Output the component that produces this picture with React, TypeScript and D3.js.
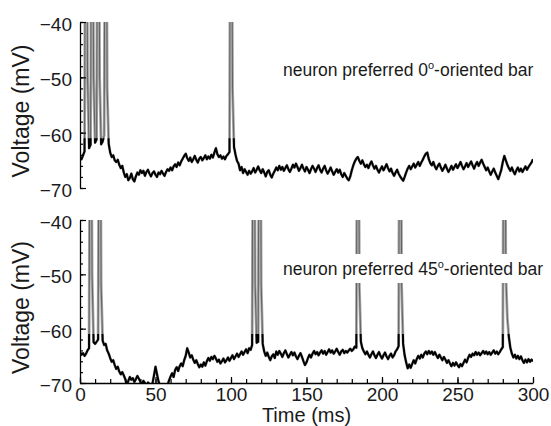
import React, { useEffect, useRef } from "react";
import * as d3 from "d3";

// membrane potential, sampled every 1 ms from 0 to 300 ms
const trace0 = [
  -64.4, -64.8, -64.1, -63.4, 20, -50, -62.8, -62.2, 20, -50,
  -61.8, -61.2, 20, -50, -62.1, -61.6, -60.5, 20, -52, -62.0,
  -63.6, -64.4, -64.1, -65.0, -65.3, -64.9, -65.8, -66.4, -66.0, -67.2,
  -68.0, -67.5, -68.6, -68.2, -67.4, -68.4, -68.8, -67.9, -67.2, -67.6,
  -66.8, -67.3, -66.9, -67.8, -67.1, -66.7, -67.4, -67.9, -67.3, -67.0,
  -67.6, -68.0, -67.2, -67.5, -66.9, -67.4, -67.8, -67.1, -66.6, -66.9,
  -66.3, -66.8, -66.1, -65.7, -66.2, -65.4, -65.9, -65.2, -64.7, -64.2,
  -63.8, -64.6, -65.1, -64.5, -65.3, -64.8, -64.2, -64.9, -65.4, -64.7,
  -64.4, -65.0, -64.6, -64.1, -64.8, -64.3, -64.7, -64.0, -64.5, -63.6,
  -62.8, -63.9, -64.4, -64.1, -64.7, -64.3, -64.8, -64.2, -63.9, -63.5,
  20, -52, -62.6, -64.0, -65.1, -65.6, -66.8, -66.2, -67.3, -66.6,
  -67.1, -67.6, -66.9, -67.4, -67.0, -66.4, -67.2, -66.7, -66.1, -66.8,
  -67.3, -66.6, -67.2, -67.9, -67.1, -66.8, -67.6, -68.1, -67.4, -66.9,
  -66.3, -66.8, -66.0, -66.7, -66.2, -66.9, -66.4, -65.9, -66.6, -67.1,
  -66.5, -65.8, -66.3, -65.6, -66.2, -66.9, -66.4, -65.8, -66.5, -67.0,
  -66.2, -66.7, -67.3, -66.6, -66.0, -66.5, -67.1, -66.4, -65.9, -66.7,
  -67.2, -66.5, -66.0, -66.8, -67.4, -66.9, -66.3, -67.0, -67.6, -67.1,
  -66.6, -67.2, -66.7, -67.5, -68.0, -67.3, -67.8, -68.3, -68.6, -67.9,
  -66.8, -65.9, -65.2, -64.7, -64.4, -65.1, -65.6, -65.0, -65.7, -66.2,
  -65.8, -66.4, -65.7, -65.2, -65.9, -66.5, -66.0, -66.7, -67.2, -66.6,
  -66.1, -66.8, -66.3, -65.7, -66.4, -67.0, -66.5, -67.3, -67.8, -67.2,
  -66.7, -67.4, -67.9, -68.3, -68.7, -68.0, -67.2, -66.5, -66.0, -66.6,
  -66.1, -65.6, -66.3, -65.8, -65.3, -66.0, -65.4, -64.9, -64.3, -63.8,
  -63.6, -64.8, -65.5, -65.9, -65.3, -66.1, -66.6, -66.0, -65.6, -66.3,
  -66.9, -66.4, -65.8, -66.5, -67.1, -66.6, -66.0, -66.7, -66.2, -65.7,
  -66.4, -65.9, -65.3, -66.0, -66.6, -66.1, -65.5, -66.2, -65.7, -65.2,
  -65.9, -66.5, -65.8, -65.3, -66.0, -65.4, -64.9, -65.6, -66.2, -66.8,
  -66.3, -67.0, -67.6, -67.0, -66.5, -67.2, -67.8, -68.4, -67.6, -66.7,
  -65.3, -64.2, -65.0, -65.8, -66.4, -66.9, -66.3, -67.0, -67.5, -66.8,
  -66.3, -67.0, -66.5, -67.1, -66.6, -66.1, -66.7, -66.2, -65.8, -65.4,
  -64.8,
];

const trace45 = [
  -64.3, -64.8, -64.5, -65.0, -64.6, -64.0, -63.6, 20, -50, -62.5,
  -62.8, -62.4, -62.0, 20, -52, -62.2, -63.0, -62.8, -64.0, -64.6,
  -65.4, -66.1, -65.8, -66.7, -67.4, -67.0, -67.9, -68.4, -68.0, -68.6,
  -69.3, -70.4, -69.6, -68.9, -69.4, -69.1, -69.8, -69.3, -68.7, -69.2,
  -69.8, -70.3, -69.6, -70.0, -70.6, -69.9, -70.2, -70.8, -70.1, -68.6,
  -67.0, -68.4, -69.7, -70.5, -71.0, -70.3, -70.8, -71.2, -70.4, -69.5,
  -68.8, -68.2, -68.9, -67.6, -67.1, -67.8, -66.9, -66.4, -66.9, -65.8,
  -65.0, -63.6, -64.4, -65.3, -64.9, -65.7, -66.3, -65.8, -66.5, -67.1,
  -66.6, -67.0, -66.2, -66.8, -66.0, -65.4, -65.9, -65.2, -65.6, -65.0,
  -65.5, -66.1, -65.7, -66.4, -66.0, -65.5, -66.2, -65.8, -65.3, -65.9,
  -65.4, -64.9, -65.6, -65.1, -64.6, -65.2, -64.7, -64.2, -64.8, -64.3,
  -63.8, -64.5, -63.6, -63.9, -63.0, 20, -52, -62.6, -62.4, 20,
  -52, -62.8, -64.2, -65.0, -64.4, -65.2, -65.8, -65.1, -64.7, -65.4,
  -64.2, -64.8, -64.1, -64.6, -65.2, -64.5, -64.0, -64.7, -65.3, -64.8,
  -64.3, -64.9, -64.4, -65.1, -65.6, -65.0, -64.5, -65.2, -66.0, -66.7,
  -66.2, -65.4, -64.8, -65.3, -64.6, -64.1, -64.7, -64.3, -64.9, -64.4,
  -64.0, -64.6, -64.1, -64.8, -64.3, -63.8, -64.4, -64.0, -64.6, -64.2,
  -63.7, -64.3, -64.8, -64.2, -63.9, -64.5, -64.1, -64.4, -64.0, -63.7,
  -64.1, -63.8, -63.3, -63.5, 20, -52, -62.4, -63.6, -64.2, -64.7,
  -64.2, -64.8, -65.3, -64.7, -64.2, -64.9, -65.4, -64.8, -64.3, -65.0,
  -65.5, -64.9, -64.4, -65.1, -65.6, -65.0, -64.6, -65.3, -64.9, -64.2,
  -63.8, -63.2, 20, -52, -62.8, -64.9, -66.2, -67.3, -66.6, -67.2,
  -66.5, -65.8, -66.4, -65.6, -65.0, -65.5, -64.8, -65.3, -64.6, -64.2,
  -64.7, -64.1, -64.6, -64.2, -64.8, -64.3, -64.9, -65.4, -64.8, -65.3,
  -65.8, -65.2, -65.7, -66.3, -65.8, -66.4, -66.9, -66.3, -66.8, -66.2,
  -66.7, -67.1, -66.5, -66.9, -66.3, -65.7, -66.2, -65.4, -64.8, -65.2,
  -64.6, -64.9, -64.3, -64.8, -64.4, -64.9, -64.5, -64.1, -64.6, -64.2,
  -64.7, -64.3, -64.8, -64.4, -64.0, -64.6, -64.2, -64.7, -64.3, -63.8,
  -63.4, 20, -50, -58, -61.5, -63.5, -64.6, -65.3, -64.8, -65.5,
  -65.0, -65.6, -65.1, -65.8, -66.3, -65.7, -66.2, -65.6, -66.1, -65.7,
  -66.0,
];

const times = trace0.map((_, i) => i);
const xTicks = [0, 50, 100, 150, 200, 250, 300];
const yTicks = [-70, -60, -50, -40];
const angles = ["0", "45"];

const FONT = "'Liberation Sans', Arial, sans-serif";

const Chart = () => {
  const svgRef = useRef<SVGSVGElement>(null);

  useEffect(() => {
    const svg = d3.select(svgRef.current);
    svg.selectAll("*").remove();

    const left = 80;
    const right = 533;
    const x = d3.scaleLinear().domain([0, 300]).range([left, right]);

    const panels = [
      { values: trace0, angle: angles[0], top: 22, bottom: 188, showX: false, textY: 76, mask: false },
      { values: trace45, angle: angles[1], top: 220, bottom: 383, showX: true, textY: 275, mask: true },
    ];

    const defs = svg.append("defs");

    panels.forEach((p, i) => {
      const y = d3.scaleLinear().domain([-70, -40]).range([p.bottom, p.top]);
      const g = svg.append("g");

      defs
        .append("clipPath")
        .attr("id", `clip${i}`)
        .append("rect")
        .attr("x", left)
        .attr("y", p.top)
        .attr("width", right - left)
        .attr("height", p.bottom - p.top);

      defs
        .append("clipPath")
        .attr("id", `clipLow${i}`)
        .append("rect")
        .attr("x", left)
        .attr("y", y(-61))
        .attr("width", right - left)
        .attr("height", p.bottom - y(-61));

      const line = d3
        .line<number>()
        .x((d, j) => x(times[j]))
        .y((d) => y(d));

      // spikes come out grey, the noisy baseline dark
      g.append("path")
        .datum(p.values)
        .attr("d", line)
        .attr("fill", "none")
        .attr("stroke", "#a8a8a8")
        .attr("stroke-width", 2.8)
        .attr("stroke-linejoin", "round")
        .attr("clip-path", `url(#clip${i})`);

      g.append("path")
        .datum(p.values)
        .attr("d", line)
        .attr("fill", "none")
        .attr("stroke", "#333")
        .attr("stroke-width", 0.6)
        .attr("clip-path", `url(#clip${i})`);

      g.append("g")
        .attr("clip-path", `url(#clip${i})`)
        .append("path")
        .datum(p.values)
        .attr("d", line)
        .attr("fill", "none")
        .attr("stroke", "#000")
        .attr("stroke-width", 2)
        .attr("stroke-linejoin", "round")
        .attr("clip-path", `url(#clipLow${i})`);

      // y axis, ticks pointing inward
      const yAxis = g
        .append("g")
        .attr("transform", `translate(${left},0)`)
        .attr("color", "#000")
        .call(d3.axisLeft(y).tickValues(yTicks).tickSizeInner(-6).tickSizeOuter(0).tickPadding(8));
      yAxis.select(".domain").attr("stroke-width", 1.3);
      yAxis.selectAll("line").attr("stroke-width", 1.2);
      yAxis
        .selectAll("text")
        .attr("dy", "0.45em")
        .style("font-family", FONT)
        .style("font-size", "19px")
        .attr("fill", "#1a1a1a");

      g.append("g")
        .attr("transform", `translate(${left},0)`)
        .attr("color", "#000")
        .call(d3.axisLeft(y).tickValues(d3.range(-70, -39, 2)).tickSizeInner(-3).tickSizeOuter(0).tickFormat(() => ""))
        .call((a) => a.select(".domain").remove())
        .selectAll("line")
        .attr("stroke-width", 1.2);

      if (p.showX) {
        const xAxis = g
          .append("g")
          .attr("transform", `translate(0,${p.bottom})`)
          .attr("color", "#000")
          .call(d3.axisBottom(x).tickValues(xTicks).tickSizeInner(-6).tickSizeOuter(0).tickPadding(5));
        xAxis.select(".domain").attr("stroke-width", 1.3);
        xAxis.selectAll("line").attr("stroke-width", 1.2);
        xAxis
          .selectAll("text")
          .style("font-family", FONT)
          .style("font-size", "19px")
          .attr("fill", "#1a1a1a");

        g.append("g")
          .attr("transform", `translate(0,${p.bottom})`)
          .attr("color", "#000")
          .call(d3.axisBottom(x).tickValues(d3.range(0, 301, 10)).tickSizeInner(-4).tickSizeOuter(0).tickFormat(() => ""))
          .call((a) => a.select(".domain").remove())
          .selectAll("line")
          .attr("stroke-width", 1.2);
      }

      if (p.mask) {
        g.append("rect")
          .attr("x", 279)
          .attr("y", p.textY - 21)
          .attr("width", 270)
          .attr("height", 29)
          .attr("fill", "#fff");
      }

      const label = g
        .append("text")
        .attr("x", 283)
        .attr("y", p.textY)
        .style("font-family", FONT)
        .style("font-size", "17.5px")
        .attr("fill", "#1a1a1a");
      label.append("tspan").text(`neuron preferred ${p.angle}`);
      label.append("tspan").attr("dy", -7).style("font-size", "11px").text("o");
      label.append("tspan").attr("dy", 7).text("-oriented bar");

      g.append("text")
        .attr("transform", `translate(29,${(p.top + p.bottom) / 2 + 6}) rotate(-90)`)
        .attr("text-anchor", "middle")
        .style("font-family", FONT)
        .style("font-size", "23px")
        .attr("fill", "#1a1a1a")
        .text("Voltage (mV)");
    });

    svg
      .append("text")
      .attr("x", (left + right) / 2)
      .attr("y", 422)
      .attr("text-anchor", "middle")
      .style("font-family", FONT)
      .style("font-size", "20px")
      .attr("fill", "#1a1a1a")
      .text("Time (ms)");
  }, []);

  return (
    <svg
      ref={svgRef}
      width={551}
      height={426}
      style={{ position: "absolute", left: 0, top: 0, background: "#fff" }}
    ></svg>
  );
};

export default function App() {
  return <Chart />;
}
